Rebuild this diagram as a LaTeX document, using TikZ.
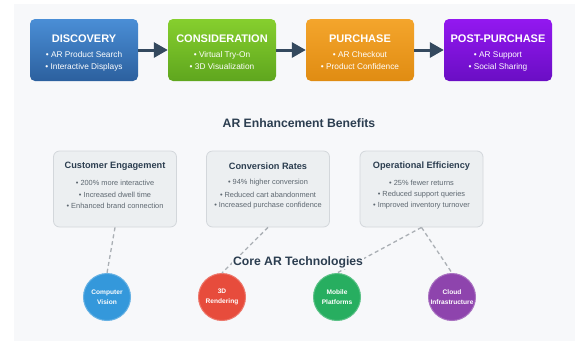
\documentclass[tikz,border=0pt]{standalone}
\usepackage{fontspec}
\setmainfont{Liberation Sans}
\setsansfont{Liberation Sans}
\usepackage{tikz}
\usetikzlibrary{arrows.meta}

\definecolor{panel}{HTML}{F7F8FA}
\definecolor{slate}{HTML}{34495E}
\definecolor{ink}{HTML}{2C3E50}
\definecolor{soft}{HTML}{5D6770}
\definecolor{card}{HTML}{ECEFF1}
\definecolor{cardline}{HTML}{D3D7DB}
\definecolor{link}{HTML}{ABB0B5}
\definecolor{cvc}{HTML}{3498DB}
\definecolor{rdc}{HTML}{E74C3C}
\definecolor{mpc}{HTML}{27AE60}
\definecolor{clc}{HTML}{8E44AD}

\begin{document}
\begin{tikzpicture}[x=1pt,y=-1pt,font=\sffamily,
  stagebox/.style={rounded corners=5pt,minimum width=108pt,minimum height=62pt},
  stagettl/.style={text=white,font=\sffamily\bfseries\fontsize{11}{13}\selectfont},
  stageitem/.style={text=white,font=\sffamily\fontsize{8.3}{10}\selectfont},
  flow/.style={slate,line width=3pt,-{Triangle[length=14pt,width=15pt]}},
  cardbox/.style={fill=card,draw=cardline,line width=0.8pt,rounded corners=6pt,
    minimum width=123pt,minimum height=76pt},
  cardttl/.style={text=ink,font=\sffamily\bfseries\fontsize{9.2}{11}\selectfont},
  carditem/.style={text=soft,font=\sffamily\fontsize{7.4}{9}\selectfont},
  heading/.style={text=ink,font=\sffamily\bfseries\fontsize{12.2}{14}\selectfont},
  techdot/.style={circle,minimum size=47pt,inner sep=0pt,line width=1pt,
    text=white,align=center,font=\sffamily\bfseries\fontsize{6.6}{10}\selectfont},
  tie/.style={link,line width=1.3pt,dash pattern=on 4pt off 3pt}]
\useasboundingbox (0,0) rectangle (575,341);
\fill[white] (0,0) rectangle (575,341);
\fill[panel] (14,4) rectangle (575,341);

% journey stages
\foreach \id/\x/\ca/\cb/\ttl/\la/\lb in {
    disc/84/4A8ED6/2C609E/DISCOVERY/AR Product Search/Interactive Displays,
    cons/222/86CF2E/5FA61E/CONSIDERATION/Virtual Try-On/3D Visualization,
    purc/360/F4A52C/E08C12/PURCHASE/AR Checkout/Product Confidence,
    post/498/9318F0/6A0EC4/POST-PURCHASE/AR Support/Social Sharing}
{
  \definecolor{topc}{HTML}{\ca}
  \definecolor{botc}{HTML}{\cb}
  \node[stagebox,top color=topc,bottom color=botc] (\id) at (\x,50) {};
  \node[stagettl] (\id-t) at (\x,39) {\ttl};
  \node[stageitem] (\id-a) at (\x,55) {• \la};
  \node[stageitem] (\id-b) at (\x,67) {• \lb};
}
\foreach \a/\b in {disc/cons, cons/purc, purc/post}
  \draw[flow] (\a.east) -- (\b.west);

\node[heading] (benefits) at (299,123) {AR Enhancement Benefits};

% benefit cards
\foreach \id/\x/\ttl/\la/\lb/\lc in {
    eng/115/Customer Engagement/200\% more interactive/Increased dwell time/Enhanced brand connection,
    conv/268/Conversion Rates/94\% higher conversion/Reduced cart abandonment/Increased purchase confidence,
    ops/421.5/Operational Efficiency/25\% fewer returns/Reduced support queries/Improved inventory turnover}
{
  \node[cardbox] (\id) at (\x,189) {};
  \node[cardttl] (\id-t) at (\x,166) {\ttl};
  \node[carditem] (\id-a) at (\x,183) {• \la};
  \node[carditem] (\id-b) at (\x,194.5) {• \lb};
  \node[carditem] (\id-c) at (\x,206) {• \lc};
}

% technologies
\node[techdot,fill=cvc,draw=cvc!75!white] (cv) at (107,297) {Computer\\Vision};
\node[techdot,fill=rdc,draw=rdc!75!white] (rd) at (222,297) {3D\\Rendering};
\node[techdot,fill=mpc,draw=mpc!75!white] (mp) at (337,297) {Mobile\\Platforms};
\node[techdot,fill=clc,draw=clc!75!white] (cl) at (452,297) {Cloud\\Infrastructure};

\draw[tie] (eng.south) -- (cv.north);
\draw[tie] (conv.south) -- (rd.north);
\draw[tie] (ops.south) -- (mp.north);
\draw[tie] (ops.south) -- (cl.north);

\node[heading,fill=panel,inner sep=1pt] (core) at (298,262) {Core AR Technologies};
\end{tikzpicture}
\end{document}
